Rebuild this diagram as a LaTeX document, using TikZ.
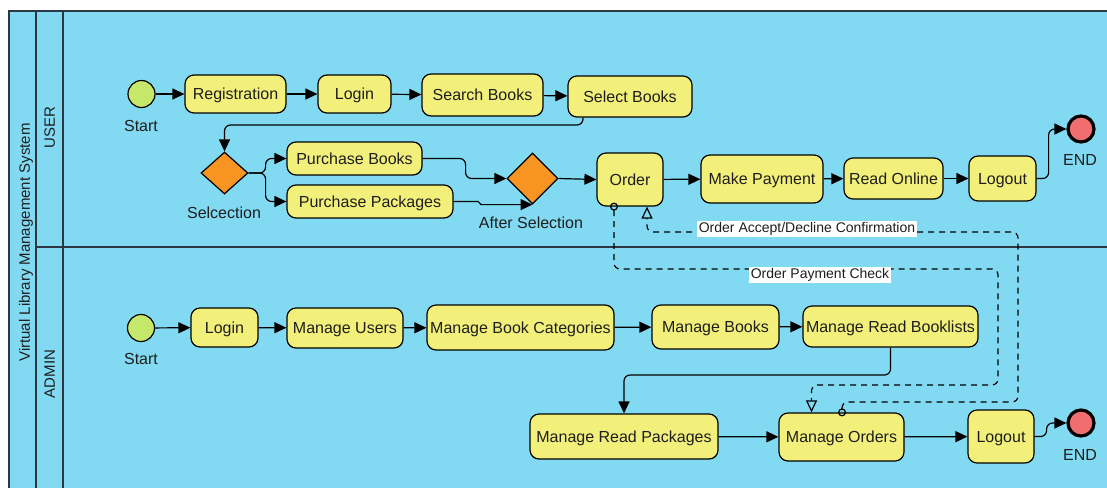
\documentclass[tikz,border=0pt]{standalone}
\usepackage{fontspec}
\setmainfont{Liberation Sans}
\usetikzlibrary{arrows.meta,shapes.geometric,calc}
\definecolor{lane}{RGB}{130,218,242}
\definecolor{actfill}{RGB}{242,240,122}
\definecolor{decfill}{RGB}{247,148,34}
\definecolor{startfill}{RGB}{198,232,106}
\definecolor{endfill}{RGB}{240,110,112}
\definecolor{framecol}{RGB}{45,55,65}
\definecolor{txt}{RGB}{30,30,30}
\begin{document}
\begin{tikzpicture}[x=1pt,y=-1pt,
 act/.style={draw=black, fill=actfill, rounded corners=9pt, line width=1.2pt, inner sep=0pt, font=\fontsize{16}{18}\selectfont, text=txt, text height=11.5pt, text depth=0pt},
 dec/.style={diamond, draw=black, fill=decfill, line width=1.2pt, inner sep=0pt},
 startnode/.style={circle, draw=black, fill=startfill, line width=1.2pt, minimum size=27pt, inner sep=0pt},
 endnode/.style={circle, draw=black, fill=endfill, line width=3.2pt, minimum size=26pt, inner sep=0pt},
 lbltxt/.style={font=\fontsize{16}{18}\selectfont, text=txt, inner sep=0pt},
 lanecap/.style={font=\fontsize{15}{17}\selectfont, text=txt, inner sep=0pt, rotate=90},
 flow/.style={draw=black, line width=1.2pt, rounded corners=6pt, -{Triangle[length=12pt,width=11pt]}},
 msg/.style={draw=black, line width=1.2pt, rounded corners=6pt, dash pattern=on 6pt off 5pt, {Circle[open,length=8pt,width=8pt]}-{Triangle[open,length=12pt,width=11pt]}},
 msglbl/.style={fill=white, inner sep=1.5pt, font=\fontsize{14}{16}\selectfont, text=txt},
]
\useasboundingbox (0,0) rectangle (1107,488);
\fill[white] (0,0) rectangle (1107,488);
\fill[lane] (9,11) rectangle (1107,488);
\draw[framecol, line width=1.6pt] (1107,11) -- (9,11) -- (9,488);
\draw[framecol, line width=1.6pt] (36,11) -- (36,488);
\draw[framecol, line width=1.6pt] (63,11) -- (63,488);
\draw[framecol, line width=1.6pt] (36,247) -- (1107,247);
\node[lanecap] (title) at (26,242.5) {Virtual Library Management System};
\node[lanecap] (userlane) at (49.6,127.5) {USER};
\node[lanecap] (adminlane) at (49.6,374) {ADMIN};

% USER lane
\node[startnode] (st1) at (141.5,94) {};
\node[lbltxt] (st1l) at (141,126) {Start};
\node[act, minimum width=101pt, minimum height=38pt] (reg) at (235.5,94) {Registration};
\node[act, minimum width=73pt, minimum height=38pt] (login1) at (354.5,94) {Login};
\node[act, minimum width=121pt, minimum height=42pt] (sb) at (482.5,95) {Search Books};
\node[act, minimum width=124pt, minimum height=41pt] (selb) at (630,96.5) {Select Books};
\node[dec, minimum width=47pt, minimum height=42pt] (sel) at (224.5,173) {};
\node[lbltxt] (sell) at (224,213) {Selcection};
\node[act, minimum width=135pt, minimum height=33pt] (pb) at (354.5,158.5) {Purchase Books};
\node[act, minimum width=166pt, minimum height=33pt] (pp) at (370,201.5) {Purchase Packages};
\node[dec, minimum width=51pt, minimum height=51pt] (as) at (532.5,178.5) {};
\node[lbltxt] (asl) at (531,223) {After Selection};
\node[act, minimum width=66pt, minimum height=53pt] (or) at (630,179.5) {Order};
\node[act, minimum width=122pt, minimum height=48pt] (mp) at (762,179) {Make Payment};
\node[act, minimum width=99pt, minimum height=41pt] (ro) at (893.5,178.5) {Read Online};
\node[act, minimum width=67pt, minimum height=45pt] (lo1) at (1002.5,178.5) {Logout};
\node[endnode] (end1) at (1081,129) {};
\node[lbltxt] (end1l) at (1080,160) {END};

% ADMIN lane
\node[startnode] (st2) at (141,328) {};
\node[lbltxt] (st2l) at (141,359) {Start};
\node[act, minimum width=67pt, minimum height=39pt] (login2) at (224.5,327.5) {Login};
\node[act, minimum width=116pt, minimum height=40pt] (mu) at (345,328) {Manage Users};
\node[act, minimum width=187pt, minimum height=45pt] (mbc) at (520.5,327.5) {Manage Book Categories};
\node[act, minimum width=127pt, minimum height=44pt] (mb) at (715.5,327) {Manage Books};
\node[act, minimum width=175pt, minimum height=41pt] (mrb) at (890.5,326.5) {Manage Read Booklists};
\node[act, minimum width=188pt, minimum height=45pt] (mrp) at (624,436.5) {Manage Read Packages};
\node[act, minimum width=125pt, minimum height=48pt] (mo) at (841.5,437) {Manage Orders};
\node[act, minimum width=66pt, minimum height=53pt] (lo2) at (1001,436.5) {Logout};
\node[endnode] (end2) at (1081,423) {};
\node[lbltxt] (end2l) at (1080,455) {END};

% USER flows
\draw[flow] (st1) -- (reg);
\draw[flow] (reg) -- (login1);
\draw[flow] (login1) -- (sb);
\draw[flow] (sb) -- (selb);
\coordinate (c1) at (400,125);
\draw[flow] ($(selb.south)+(-47,0)$) |- (c1) -| (sel.north);
\draw[flow] (sel.east) -- ++(17,0) |- (pb.west);
\draw[flow] (sel.east) -- ++(17,0) |- (pp.west);
\draw[flow] (pb.east) -- ++(43,0) |- (as.west);
\draw[flow, rounded corners=1.5pt] (pp.east) -- ++(26,0) |- (as.south);
\draw[flow] (as.east) -- (or.west);
\draw[flow] (or) -- (mp);
\draw[flow] (mp) -- (ro);
\draw[flow] (ro) -- (lo1);
\draw[flow] (lo1.east) -- ++(12,0) |- (end1.west);

% ADMIN flows
\draw[flow] (st2) -- (login2);
\draw[flow] (login2) -- (mu);
\draw[flow] (mu) -- (mbc);
\draw[flow] (mbc) -- (mb);
\draw[flow] (mb) -- (mrb);
\coordinate (c2) at (750,375);
\draw[flow] (mrb.south) |- (c2) -| (mrp.north);
\draw[flow] (mrp) -- (mo);
\draw[flow] (mo) -- (lo2);
\draw[flow] (lo2.east) -- ++(12,0) |- (end2.west);

% message flows
\coordinate (a1) at (1018,402);
\coordinate (a2) at (1018,232);
\draw[msg] ($(mo.north)+(0.5,4)$) |- (a1) -- (a2) -| ($(or.south)+(17,0)$);
\coordinate (b1) at (998,269);
\coordinate (b2) at (998,385);
\draw[msg] ($(or.south)+(-16,-4)$) |- (b1) -- (b2) -| ($(mo.north)+(-30,0)$);
\node[msglbl] (acclbl) at (807,229) {Order Accept/Decline Confirmation};
\node[msglbl] (paylbl) at (820,275) {Order Payment Check};
\end{tikzpicture}
\end{document}
